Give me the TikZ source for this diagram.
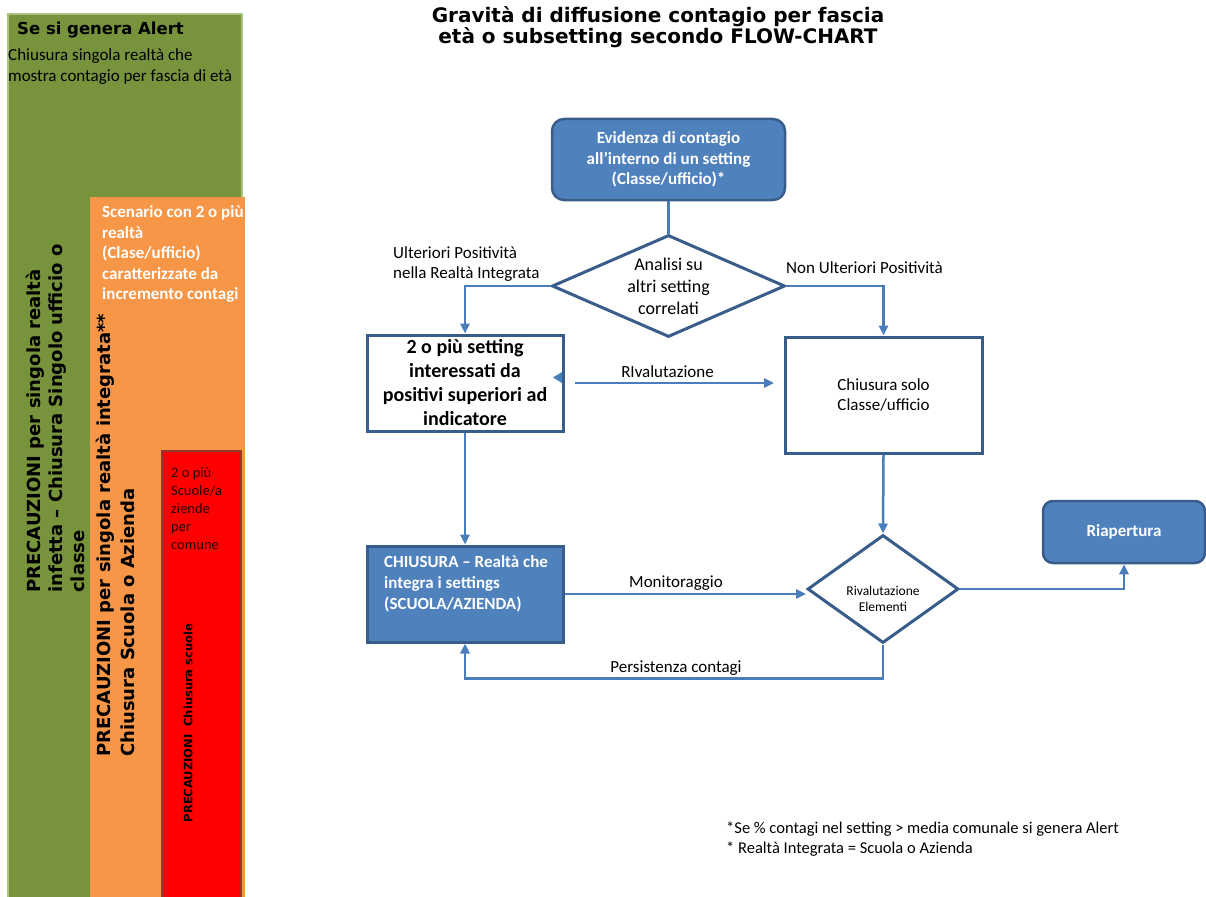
\documentclass[tikz,border=0pt]{standalone}
\usepackage{fontspec}
\setmainfont{Carlito}
\newfontfamily\verd{DejaVu Sans}
\usetikzlibrary{shapes.geometric,arrows.meta}
\definecolor{gfill}{HTML}{77933C}
\definecolor{gline}{HTML}{A9C47F}
\definecolor{ofill}{HTML}{F79646}
\definecolor{rfill}{HTML}{FF0000}
\definecolor{rline}{HTML}{943634}
\definecolor{bfill}{HTML}{4F81BD}
\definecolor{bline}{HTML}{385D8A}
\definecolor{conn}{HTML}{4A7EBB}
\newcommand\fsz[2]{\fontsize{#1pt}{#2pt}\selectfont}
\begin{document}
\begin{tikzpicture}[x=1pt,y=-1pt,
  bluebox/.style={draw=bline, fill=bfill, line width=2.5pt, rounded corners=12pt, inner sep=0pt},
  whitebox/.style={draw=bline, fill=white, line width=3pt, inner sep=0pt},
  dia/.style={draw=bline, fill=white, line width=3pt, diamond, inner sep=0pt},
  conline/.style={draw=conn, line width=2.5pt},
  arr/.style={conline, -{Triangle[length=10pt,width=9pt]}},
  lab/.style={inner sep=0pt, font=\fsz{17}{20.5}},
  vtxt/.style={inner sep=0pt, rotate=90, align=left, font=\verd\bfseries\fsz{18}{22}}
]
\useasboundingbox (0,0) rectangle (1206,896);

% ---- left bars ----
\filldraw[fill=gfill, draw=gline, line width=1.5pt] (8,14) rectangle (242,900);
\fill[ofill] (90,197) rectangle (245,900);
\filldraw[fill=rfill, draw=rline, line width=2.5pt] (162,451) rectangle (241,905);

\node[anchor=west, inner sep=0pt, font=\verd\bfseries\fsz{16.5}{20}] (galert) at (17,30) {Se si genera Alert};
\node[anchor=west, align=left, inner sep=0pt, font=\fsz{17}{21}] (gtxt) at (8,66.5) {Chiusura singola realtà che\\mostra contagio per fascia di età};
\node[vtxt, anchor=north west] (gvert) at (26,593) {PRECAUZIONI per singola realtà\\infetta – Chiusura Singolo ufficio o\\classe};

\node[anchor=west, align=left, inner sep=0pt, text=white, font=\bfseries\fsz{17}{20.5}] (otxt) at (102,254) {Scenario con 2 o più\\realtà\\(Clase/ufficio)\\caratterizzate da\\incremento contagi};
\node[vtxt, anchor=north west, font=\verd\bfseries\fsz{18}{24}] (overt) at (96,757) {PRECAUZIONI per singola realtà integrata**\\Chiusura Scuola o Azienda};

\node[anchor=north west, align=left, inner sep=0pt, text=black!85!red, font=\fsz{14.5}{18}] (rtxt) at (171,467) {2 o più\\Scuole/a\\ziende\\per\\comune};
\node[inner sep=0pt, rotate=90, font=\verd\bfseries\fsz{11.5}{13}] (rvert) at (188,723) {PRECAUZIONI\ \ Chiusura scuole};

% ---- title ----
\node[align=center, inner sep=0pt, font=\verd\bfseries\fsz{20}{21}] (title) at (658,27) {Gravità di diffusione contagio per fascia\\età o subsetting secondo FLOW-CHART};

% ---- flowchart nodes ----
\node[bluebox, minimum width=233pt, minimum height=81pt, text=white, align=center, font=\bfseries\fsz{17}{20.5}] (top) at (668.5,159.5) {Evidenza di contagio\\all’interno di un setting\\(Classe/ufficio)*};

\node[dia, minimum width=233pt, minimum height=102pt] (dA) at (668.5,286) {};
\node[align=center, inner sep=0pt, font=\fsz{18}{22}] (dAt) at (668.5,286) {Analisi su\\altri setting\\correlati};

\node[whitebox, minimum width=196pt, minimum height=96pt, align=center, font=\bfseries\fsz{20}{24}] (b1) at (465,383) {2 o più setting\\interessati da\\positivi superiori ad\\indicatore};

\node[whitebox, minimum width=197pt, minimum height=116pt, align=center, font=\fsz{17}{20.5}] (b2) at (883.5,395) {Chiusura solo\\Classe/ufficio};

\node[draw=bline, fill=bfill, line width=3pt, minimum width=196pt, minimum height=96pt, inner sep=0pt] (b3) at (465,594) {};
\node[anchor=west, align=left, inner sep=0pt, text=white, font=\bfseries\fsz{17}{21}] (b3t) at (384,584) {CHIUSURA – Realtà che\\integra i settings\\(SCUOLA/AZIENDA)};

\node[dia, minimum width=151pt, minimum height=108pt] (dB) at (883,589) {};
\node[align=center, inner sep=0pt, font=\fsz{13.5}{15.5}] (dBt) at (883,599) {Rivalutazione\\Elementi};

\node[bluebox, rounded corners=10pt, minimum width=162pt, minimum height=62pt, text=white, font=\bfseries\fsz{17}{20}] (riap) at (1124,532) {Riapertura};

% ---- connectors ----
\draw[conline] (top.south) -- (dA.north);
\draw[arr] (dA.west) -| (b1.north);
\draw[arr] (dA.east) -| (b2.north);
\coordinate (rvL) at (575,383);
\coordinate (rvR) at (774,383);
\draw[arr] (rvL) -- (rvR);
\fill[conn] (562,372) -- (553,377.5) -- (562,383) -- cycle;
\draw[arr] (b1.south) -- (b3.north);
\draw[arr] (b3.east) -- (b3.east -| dB.west);
\draw[arr] (b2.south) -- (dB.north);
\draw[arr] (dB.east) -| (riap.south);
\draw[arr] (dB.south) -- ++(0,34) -| (b3.south);

% ---- labels ----
\node[lab, anchor=west, align=left] (lUlt) at (393,264) {Ulteriori Positività\\nella Realtà Integrata};
\node[lab, anchor=west] (lNon) at (786,268) {Non Ulteriori Positività};
\node[lab] (lRiv) at (667.5,372) {RIvalutazione};
\node[lab] (lMon) at (676,583) {Monitoraggio};
\node[lab] (lPer) at (676,668) {Persistenza contagi};

% ---- footnotes ----
\node[anchor=west, align=left, inner sep=0pt, font=\fsz{16.5}{20}] (foot) at (726,839) {*Se \% contagi nel setting > media comunale si genera Alert\\* Realtà Integrata = Scuola o Azienda};
\end{tikzpicture}
\end{document}
